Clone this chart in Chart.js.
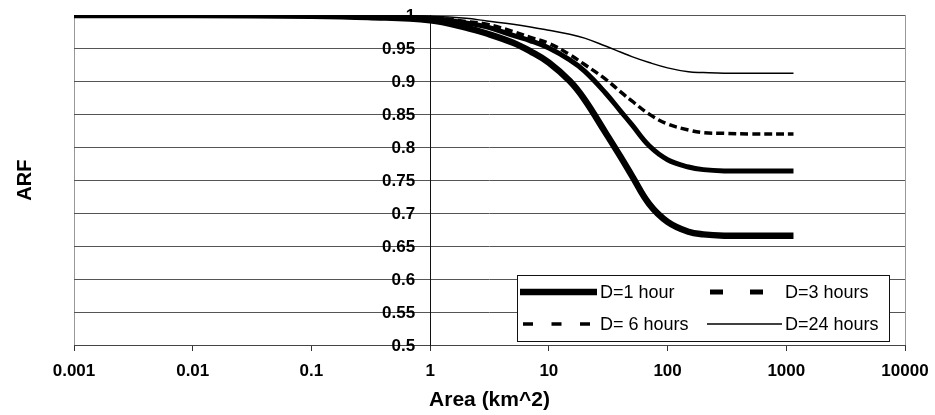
<!DOCTYPE html>
<html>
<head>
<meta charset="utf-8">
<script src="https://cdn.jsdelivr.net/npm/chart.js"></script>
<style>
  body { margin: 0; background: #fff; }
  #wrap { width: 935px; height: 415px; }
</style>
</head>
<body>
<div id="wrap"><canvas id="arfChart"></canvas></div>
<script>
// Fläche in km^2
const areas = [0.001, 0.01, 0.1, 0.3, 1, 2, 3, 5, 7, 10, 15, 20, 30, 40, 50, 70, 100, 150, 200, 300, 500, 1150];

// ARF je Dauer
const arf1h  = [1.000, 1.000, 0.999, 0.997, 0.992, 0.981, 0.972, 0.958, 0.945, 0.928, 0.900, 0.872, 0.822, 0.786, 0.757, 0.714, 0.687, 0.672, 0.668, 0.666, 0.666, 0.666];
const arf3h  = [1.000, 1.000, 0.999, 0.998, 0.995, 0.988, 0.982, 0.969, 0.961, 0.950, 0.932, 0.915, 0.882, 0.855, 0.834, 0.802, 0.781, 0.770, 0.766, 0.764, 0.764, 0.764];
const arf6h  = [1.000, 1.000, 1.000, 0.999, 0.996, 0.990, 0.986, 0.975, 0.966, 0.957, 0.940, 0.925, 0.903, 0.884, 0.870, 0.850, 0.835, 0.826, 0.822, 0.821, 0.820, 0.820];
const arf24h = [1.000, 1.000, 1.000, 1.000, 0.998, 0.995, 0.991, 0.986, 0.982, 0.977, 0.971, 0.965, 0.953, 0.944, 0.937, 0.928, 0.920, 0.914, 0.913, 0.912, 0.912, 0.912];

const seriesLabels = ["D=1 hour", "D=3 hours", "D= 6 hours", "D=24 hours"];
const xTicks = [0.001, 0.01, 0.1, 1, 10, 100, 1000, 10000];

const FONT = "'Liberation Sans', Arial, sans-serif";

function toPoints(values) {
    return values.map((v, i) => ({ x: areas[i], y: v }));
}

function fmtY(v) {
    return parseFloat(v.toFixed(2)).toString();
}

// -----------------------------
// Y-Beschriftung an x = 1, Legende, Achsentitel
// -----------------------------
const extras = {
    id: "extras",
    beforeDatasetsDraw(chart) {
        const { ctx } = chart;
        const ys = chart.scales.y;
        const ax = chart.scales.x.getPixelForValue(1);
        ctx.save();
        ctx.font = "bold 17px " + FONT;
        ctx.fillStyle = "#000";
        ctx.textAlign = "right";
        ctx.textBaseline = "middle";
        ys.ticks.forEach(t => {
            ctx.fillText(fmtY(t.value), ax - 15, ys.getPixelForValue(t.value) + 1);
        });
        ctx.restore();
    },
    afterDatasetsDraw(chart) {
        const { ctx, chartArea: a } = chart;
        const x0 = Math.round(a.right - 388), y0 = Math.round(a.bottom - 70);
        const w = 372, h = 66;
        ctx.save();
        ctx.fillStyle = "#fff";
        ctx.fillRect(x0, y0, w, h);
        ctx.strokeStyle = "#111";
        ctx.lineWidth = 1;
        ctx.strokeRect(x0 + 0.5, y0 + 0.5, w, h);

        const items = [
            { ds: 0, sx: 3,   sw: 77, tx: 83,  row: 0, dash: [] },
            { ds: 1, sx: 193, sw: 53, tx: 268, row: 0, dash: [13, 27] },
            { ds: 2, sx: 6,   sw: 67, tx: 83,  row: 1, dash: [10, 18.5] },
            { ds: 3, sx: 190, sw: 75, tx: 268, row: 1, dash: [] }
        ];
        ctx.font = "18px " + FONT;
        ctx.textBaseline = "middle";
        ctx.textAlign = "left";
        items.forEach(it => {
            const ds = chart.data.datasets[it.ds];
            const y = y0 + 17 + it.row * 32;
            ctx.beginPath();
            ctx.setLineDash(it.dash);
            ctx.lineCap = "butt";
            ctx.lineWidth = ds.borderWidth;
            ctx.strokeStyle = "#000";
            ctx.moveTo(x0 + it.sx, y);
            ctx.lineTo(x0 + it.sx + it.sw, y);
            ctx.stroke();
            ctx.setLineDash([]);
            ctx.fillStyle = "#000";
            ctx.fillText(ds.label, x0 + it.tx, y + 1);
        });
        ctx.restore();
    },
    afterDraw(chart) {
        const { ctx, chartArea: a } = chart;
        ctx.save();
        ctx.translate(25, (a.top + a.bottom) / 2);
        ctx.rotate(-Math.PI / 2);
        ctx.font = "bold 20px " + FONT;
        ctx.fillStyle = "#000";
        ctx.textAlign = "center";
        ctx.textBaseline = "middle";
        ctx.fillText("ARF", 0, 0);
        ctx.restore();
    }
};

new Chart(document.getElementById("arfChart"), {
    type: "line",
    data: {
        datasets: [
            {
                label: seriesLabels[0],
                data: toPoints(arf1h),
                borderColor: "#000",
                borderWidth: 6.5,
                pointRadius: 0,
                tension: 0.4
            },
            {
                label: seriesLabels[1],
                data: toPoints(arf3h),
                borderColor: "#000",
                borderWidth: 5,
                pointRadius: 0,
                tension: 0.4
            },
            {
                label: seriesLabels[2],
                data: toPoints(arf6h),
                borderColor: "#000",
                borderWidth: 3.5,
                borderDash: [8, 4],
                pointRadius: 0,
                tension: 0.4
            },
            {
                label: seriesLabels[3],
                data: toPoints(arf24h),
                borderColor: "#000",
                borderWidth: 1.5,
                pointRadius: 0,
                tension: 0.4
            }
        ]
    },
    options: {
        responsive: true,
        maintainAspectRatio: false,
        animation: false,
        layout: {
            padding: { left: 74, right: 30, top: 15, bottom: 2 }
        },
        plugins: {
            legend: { display: false },
            tooltip: { enabled: false }
        },
        scales: {
            x: {
                type: "logarithmic",
                position: "bottom",
                min: 0.001,
                max: 10000,
                afterBuildTicks: (axis) => {
                    axis.ticks = xTicks.map(v => ({ value: v }));
                },
                ticks: {
                    autoSkip: false,
                    maxRotation: 0,
                    padding: 2,
                    color: "#000",
                    font: { family: FONT, size: 17, weight: "bold" },
                    callback: (v) => String(v)
                },
                grid: {
                    color: (c) => (c.tick && (c.tick.value === 0.001 || c.tick.value === 10000)) ? "#999" : "rgba(0,0,0,0)",
                    tickColor: "#333",
                    tickLength: 14,
                    tickBorderDash: [5, 60],
                    lineWidth: 1
                },
                border: { display: true, color: "#444", width: 1 },
                title: {
                    display: true,
                    text: "Area (km^2)",
                    color: "#000",
                    font: { family: FONT, size: 21, weight: "bold" },
                    padding: { top: 4, bottom: 0 }
                }
            },
            y: {
                type: "linear",
                position: { x: 1 },
                min: 0.5,
                max: 1,
                ticks: {
                    stepSize: 0.05,
                    display: false
                },
                grid: {
                    color: "#555",
                    lineWidth: 1,
                    drawTicks: false
                },
                border: { display: true, color: "#111", width: 1 }
            }
        }
    },
    plugins: [extras]
});
</script>
</body>
</html>
